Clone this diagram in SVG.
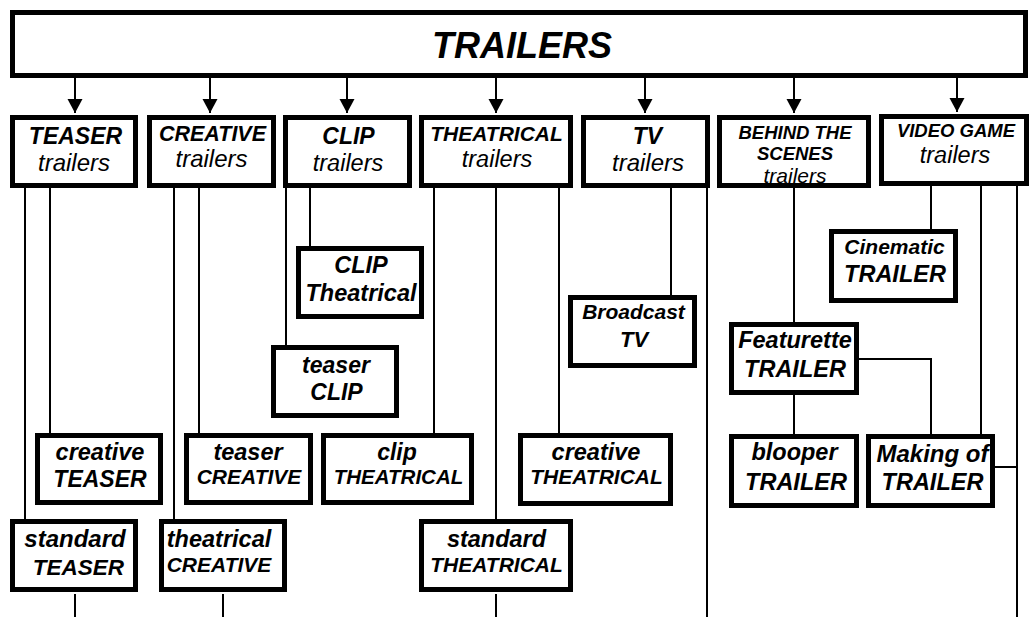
<svg xmlns="http://www.w3.org/2000/svg" width="1032" height="617" viewBox="0 0 1032 617">
<style>
.bx{fill:#fff;stroke:#000;stroke-width:5}
.ln{fill:none;stroke:#000;stroke-width:2}
.ar{fill:none;stroke:#000;stroke-width:2;marker-end:url(#ah)}
text{font-family:"Liberation Sans",Arial,sans-serif;font-style:italic;text-anchor:middle;fill:#000}
.b{font-weight:bold}
</style>
<defs>
<marker id="ah" markerUnits="userSpaceOnUse" markerWidth="16" markerHeight="16" refX="14" refY="7.5" orient="auto">
<path d="M0,0 L14,7.5 L0,15 Z" fill="#000"/>
</marker>
</defs>
<rect width="1032" height="617" fill="#fff"/>
<g id="connectors">
<line class="ar" x1="75" y1="76" x2="75" y2="113"/>
<line class="ar" x1="210" y1="76" x2="210" y2="113"/>
<line class="ar" x1="347" y1="76" x2="347" y2="113"/>
<line class="ar" x1="496" y1="76" x2="496" y2="113"/>
<line class="ar" x1="645" y1="76" x2="645" y2="113"/>
<line class="ar" x1="794" y1="76" x2="794" y2="113"/>
<line class="ar" x1="957" y1="76" x2="957" y2="112"/>
<path class="ln" d="M25 188V519 M50 188V433 M174 188V519 M199 188V433 M286 188V345 M310 188V246 M434 188V433 M496 188V519 M559 188V433 M671 188V295 M707 188V617 M794 188V322 M794 395V434 M859 359H931V434 M931 186V229 M981 186V434 M1017 186V617 M995 467H1017 M75 594V617 M223 594V617 M496 594V617"/>
</g>
<g id="trailers"><rect class="bx" x="12.5" y="12.5" width="1013" height="63"/><text class="b" x="522" y="58" font-size="36">TRAILERS</text></g>
<g id="teaser"><rect class="bx" x="12.5" y="117.5" width="123" height="68"/><text class="b" x="75.5" y="144" font-size="23">TEASER</text><text x="74" y="171" font-size="24">trailers</text></g>
<g id="creative"><rect class="bx" x="149.5" y="117.5" width="124" height="68"/><text class="b" x="212.5" y="141" font-size="21.5">CREATIVE</text><text x="211.5" y="167" font-size="24">trailers</text></g>
<g id="clip"><rect class="bx" x="285.5" y="117.5" width="124" height="68"/><text class="b" x="348.5" y="144" font-size="23">CLIP</text><text x="348" y="171" font-size="23.5">trailers</text></g>
<g id="theatrical"><rect class="bx" x="421.5" y="117.5" width="149" height="68"/><text class="b" x="496.5" y="141" font-size="21">THEATRICAL</text><text x="497" y="167" font-size="23.5">trailers</text></g>
<g id="tv"><rect class="bx" x="583.5" y="117.5" width="124" height="68"/><text class="b" x="647.5" y="144" font-size="23">TV</text><text x="648" y="171" font-size="24">trailers</text></g>
<g id="bts"><rect x="719.5" y="117.5" width="149" height="68" fill="#fff"/><text class="b" x="795" y="139" font-size="18.5">BEHIND THE</text><text class="b" x="795" y="160" font-size="18.5">SCENES</text><text x="795" y="183" font-size="21">trailers</text><rect x="719.5" y="117.5" width="149" height="68" fill="none" stroke="#000" stroke-width="5"/></g>
<g id="videogame"><rect class="bx" x="881.5" y="116.5" width="145" height="67"/><text class="b" x="956" y="137" font-size="18.5">VIDEO GAME</text><text x="955" y="163" font-size="23.5">trailers</text></g>
<g id="clip-theatrical"><rect class="bx" x="298.5" y="248.5" width="123" height="68"/><text class="b" x="361" y="273" font-size="23.5">CLIP</text><text class="b" x="361" y="301" font-size="23.5">Theatrical</text></g>
<g id="teaser-clip"><rect class="bx" x="273.5" y="347.5" width="123" height="68"/><text class="b" x="336" y="373" font-size="23">teaser</text><text class="b" x="336.5" y="400" font-size="23">CLIP</text></g>
<g id="broadcast-tv"><rect class="bx" x="570.5" y="297.5" width="124" height="68"/><text class="b" x="633.5" y="319" font-size="21">Broadcast</text><text class="b" x="634" y="347" font-size="22">TV</text></g>
<g id="cinematic"><rect class="bx" x="831.5" y="231.5" width="124" height="69"/><text class="b" x="894.5" y="254" font-size="21">Cinematic</text><text class="b" x="895" y="282" font-size="23.5">TRAILER</text></g>
<g id="featurette"><rect class="bx" x="731.5" y="324.5" width="125" height="68"/><text class="b" x="795" y="348" font-size="23.5">Featurette</text><text class="b" x="795" y="377" font-size="23.5">TRAILER</text></g>
<g id="creative-teaser"><rect class="bx" x="37.5" y="435.5" width="123" height="67"/><text class="b" x="100" y="460" font-size="23.5">creative</text><text class="b" x="100" y="487" font-size="23">TEASER</text></g>
<g id="teaser-creative"><rect class="bx" x="186.5" y="435.5" width="124" height="67"/><text class="b" x="248" y="460" font-size="23.5">teaser</text><text class="b" x="249" y="484" font-size="21">CREATIVE</text></g>
<g id="clip-theatrical2"><rect class="bx" x="323.5" y="435.5" width="148" height="67"/><text class="b" x="397" y="460" font-size="23">clip</text><text class="b" x="398.5" y="484" font-size="20.5">THEATRICAL</text></g>
<g id="creative-theatrical"><rect class="bx" x="520.5" y="435.5" width="150" height="68"/><text class="b" x="596" y="460" font-size="23.5">creative</text><text class="b" x="596.5" y="484" font-size="21">THEATRICAL</text></g>
<g id="blooper"><rect class="bx" x="731.5" y="436.5" width="125" height="69"/><text class="b" x="794.5" y="460" font-size="23.5">blooper</text><text class="b" x="796" y="490" font-size="23.5">TRAILER</text></g>
<g id="making-of"><rect class="bx" x="868.5" y="436.5" width="124" height="69"/><text class="b" x="932.5" y="462" font-size="24">Making of</text><text class="b" x="932.5" y="490" font-size="23.5">TRAILER</text></g>
<g id="standard-teaser"><rect class="bx" x="12.5" y="521.5" width="123" height="68"/><text class="b" x="75" y="547" font-size="24">standard</text><text class="b" x="78.5" y="575" font-size="22.5">TEASER</text></g>
<g id="theatrical-creative"><rect class="bx" x="161.5" y="521.5" width="123" height="68"/><text class="b" x="219" y="547" font-size="23.5">theatrical</text><text class="b" x="219" y="572" font-size="21">CREATIVE</text></g>
<g id="standard-theatrical"><rect class="bx" x="421.5" y="521.5" width="149" height="68"/><text class="b" x="496.5" y="547" font-size="23.5">standard</text><text class="b" x="496.5" y="572" font-size="21">THEATRICAL</text></g>
</svg>
